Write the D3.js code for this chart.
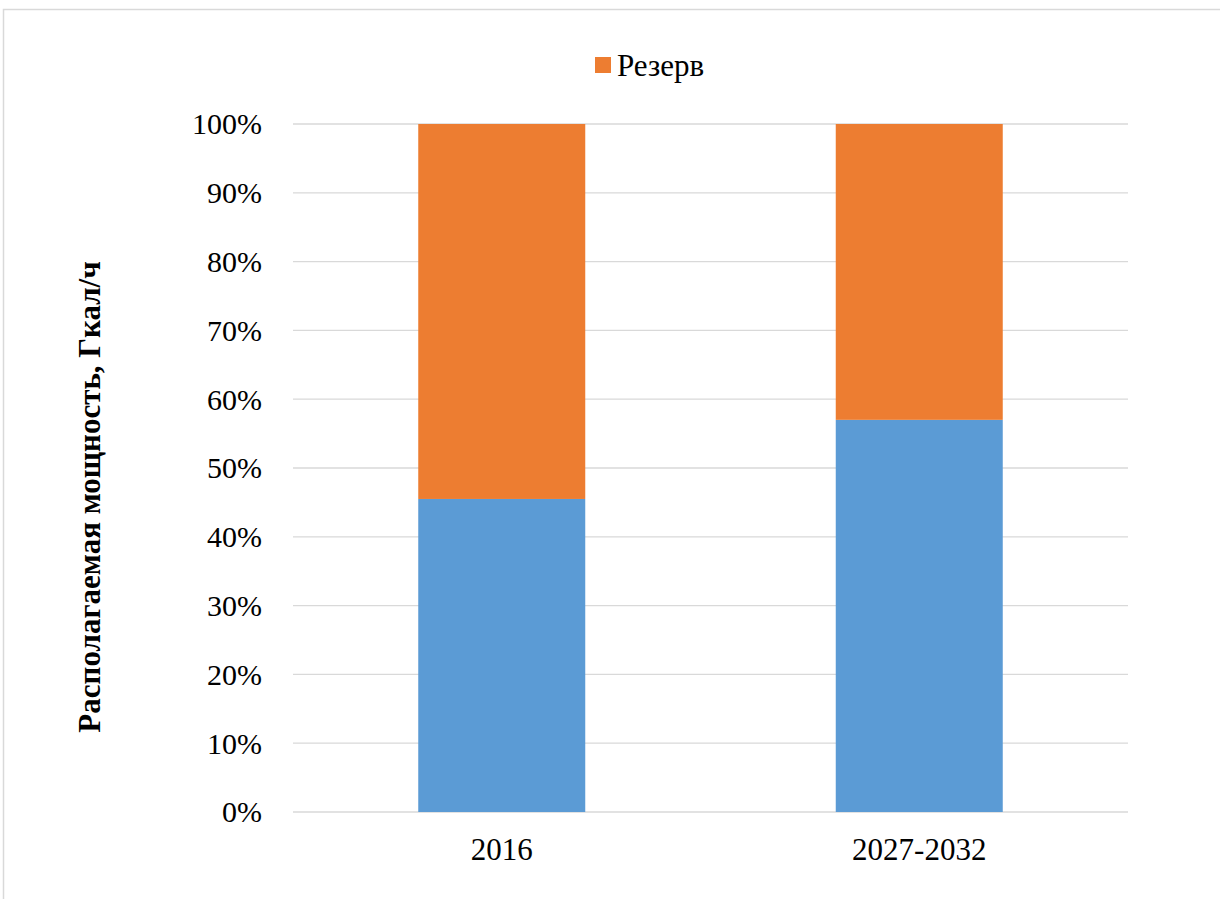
<!DOCTYPE html>
<html><head><meta charset="utf-8">
<script src="https://cdn.jsdelivr.net/npm/d3@7"></script>
<style>html,body{margin:0;padding:0;background:#fff;}svg{display:block;}</style>
</head><body>
<svg id="c" width="1220" height="899"></svg>
<script>
const categories = ["2016", "2027-2032"];
const seriesNames = ["Использовано", "Резерв"];
const usedShare = [0.455, 0.57];
const reserveShare = [0.545, 0.43];
const yTicks = [0, 0.1, 0.2, 0.3, 0.4, 0.5, 0.6, 0.7, 0.8, 0.9, 1.0];
const colors = ["#5B9BD5", "#ED7D31"];

const svg = d3.select("#c");
const font = "'Liberation Serif','Times New Roman',serif";

// chart frame
svg.append("rect").attr("x", 3.5).attr("y", 9.5).attr("width", 1300).attr("height", 1000)
  .attr("fill", "none").attr("stroke", "#d9d9d9").attr("stroke-width", 1.5);

const m = {left: 293, right: 1128, top: 124, bottom: 812};
const x = d3.scaleBand().domain(categories).range([m.left, m.right]).paddingInner(0.6).paddingOuter(0.3);
const y = d3.scaleLinear().domain([0, 1]).range([m.bottom, m.top]);

// gridlines
svg.append("g").selectAll("line").data(yTicks).join("line")
  .attr("x1", m.left).attr("x2", m.right)
  .attr("y1", d => y(d)).attr("y2", d => y(d))
  .attr("stroke", "#d9d9d9").attr("stroke-width", 1.3);

// y axis labels
const yAxis = d3.axisLeft(y).tickValues(yTicks).tickFormat(d3.format(".0%")).tickSize(0).tickPadding(31);
const gy = svg.append("g").attr("transform", `translate(${m.left},0)`).call(yAxis);
gy.select(".domain").remove();
gy.selectAll("text").attr("font-family", font).attr("font-size", 30).attr("fill", "#000").attr("dy", "0.33em");

// stacked bars
const rows = categories.map((c, i) => ({cat: c, used: usedShare[i], reserve: reserveShare[i]}));
const stack = d3.stack().keys(["used", "reserve"])(rows);
svg.append("g").selectAll("g").data(stack).join("g")
  .attr("fill", (d, i) => colors[i])
  .selectAll("rect").data(d => d).join("rect")
  .attr("x", d => x(d.data.cat)).attr("width", x.bandwidth())
  .attr("y", d => y(d[1])).attr("height", d => y(d[0]) - y(d[1]));

// x axis
const xAxis = d3.axisBottom(x).tickSize(0).tickPadding(26);
const gx = svg.append("g").attr("transform", `translate(0,${m.bottom})`).call(xAxis);
gx.select(".domain").remove();
gx.selectAll("text").attr("font-family", font).attr("font-size", 31).attr("fill", "#000");

// y title
svg.append("text").attr("transform", `translate(100,497) rotate(-90)`)
  .attr("text-anchor", "middle").attr("font-family", font).attr("font-size", 31)
  .attr("font-weight", "bold").text("Располагаемая мощность, Гкал/ч");

// legend (only reserve)
const lg = svg.append("g").attr("transform", "translate(595,57)");
lg.append("rect").attr("width", 16).attr("height", 16).attr("fill", colors[1]);
lg.append("text").attr("x", 22).attr("y", 19).attr("font-family", font).attr("font-size", 31)
  .text(seriesNames[1]);
</script>
</body></html>
